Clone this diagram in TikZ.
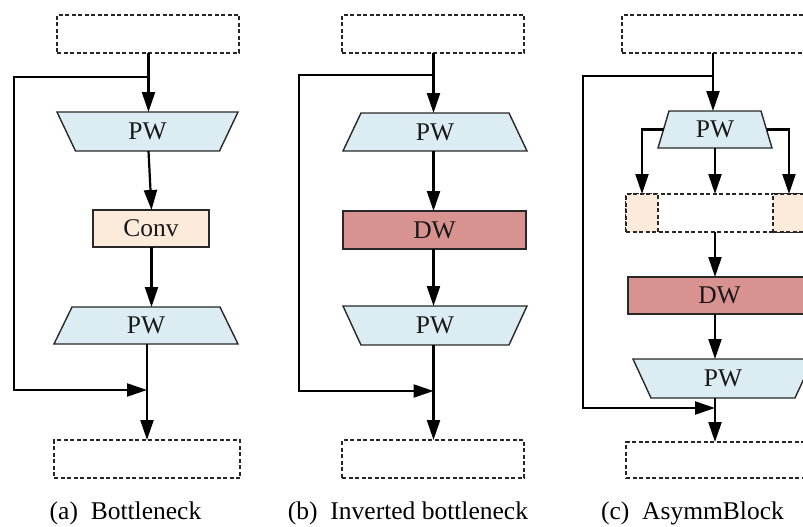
\documentclass[tikz,border=0pt]{standalone}
\usepackage{fontspec}
\setmainfont{Liberation Serif}
\usetikzlibrary{arrows.meta,backgrounds,calc}
\definecolor{pwblue}{RGB}{219,236,242}
\definecolor{convpeach}{RGB}{252,234,219}
\definecolor{dwred}{RGB}{216,146,143}
\definecolor{edgegray}{RGB}{40,40,40}
\tikzset{
  lbl/.style={font=\fontsize{25.5}{30}\selectfont, text=black!90},
  blk/.style={lbl, draw=none, inner sep=0pt, outer sep=0pt, rectangle},
  iobox/.style={draw=black!85, dash pattern=on 4pt off 2.5pt, line width=1.1pt, inner sep=0pt, outer sep=0pt, rectangle},
  pwshape/.style={fill=pwblue, draw=edgegray, line width=1.4pt},
  convbox/.style={blk, fill=convpeach, draw=edgegray, line width=1.4pt},
  dwbox/.style={blk, fill=dwred, draw=edgegray, line width=1.4pt},
  peachbox/.style={iobox, fill=convpeach},
  flow/.style={line width=2.2pt, -{Triangle[length=20pt,width=13pt]}},
  captext/.style={font=\fontsize{25.5}{30}\selectfont, inner sep=0pt, anchor=base},
}
\begin{document}
\begin{tikzpicture}[x=1pt,y=-1pt]
\useasboundingbox (0,0) rectangle (803,527);
\clip (0,0) rectangle (803,527);

% ---------- (a) Bottleneck ----------
\node[iobox, minimum width=182pt, minimum height=38pt] (ta) at (148,34) {};
\node[blk, minimum width=181pt, minimum height=39pt] (pa1) at (147.5,131.5) {PW};
\node[convbox, minimum width=116pt, minimum height=37pt] (conv) at (151,228.5) {Conv};
\node[blk, minimum width=184pt, minimum height=37pt] (pa2) at (146,325.5) {PW};
\node[iobox, minimum width=186pt, minimum height=38pt] (oa) at (147,459) {};
\begin{scope}[on background layer]
  \draw[pwshape] (pa1.north west) -- (pa1.north east) -- ([xshift=-18.5pt]pa1.south east) -- ([xshift=18.5pt]pa1.south west) -- cycle;
  \draw[pwshape] ([xshift=18pt]pa2.north west) -- ([xshift=-18pt]pa2.north east) -- (pa2.south east) -- (pa2.south west) -- cycle;
\end{scope}
\coordinate (xa1) at (148.5,0);
\coordinate (xa2) at (151.5,0);
\coordinate (xa3) at (147,0);
\coordinate (ja) at ($(ta.south)+(0,24)$);
\coordinate (ka) at ($(pa2.south -| xa3)+(0,46)$);
\coordinate (la) at (14,0);
\draw[flow] (ta.south -| xa1) -- (pa1.north -| xa1);
\draw[flow] (pa1.south -| xa1) -- (conv.north -| xa2);
\draw[flow] (conv.south -| xa2) -- (pa2.north -| xa2);
\draw[flow] (pa2.south -| xa3) -- (oa.north -| xa3);
\draw[flow] (ja -| xa1) -- (ja -| la) |- (ka);
\node[captext] (capa) at (125.5,519) {(a)\enspace Bottleneck};

% ---------- (b) Inverted bottleneck ----------
\node[iobox, minimum width=182pt, minimum height=38pt] (tb) at (433,34) {};
\node[blk, minimum width=184pt, minimum height=38pt] (pb1) at (435,132) {PW};
\node[dwbox, minimum width=183pt, minimum height=38pt] (dwb) at (434.5,230) {DW};
\node[blk, minimum width=184pt, minimum height=39pt] (pb2) at (435,325.5) {PW};
\node[iobox, minimum width=182pt, minimum height=38pt] (ob) at (433,459) {};
\begin{scope}[on background layer]
  \draw[pwshape] ([xshift=18pt]pb1.north west) -- ([xshift=-18pt]pb1.north east) -- (pb1.south east) -- (pb1.south west) -- cycle;
  \draw[pwshape] (pb2.north west) -- (pb2.north east) -- ([xshift=-18pt]pb2.south east) -- ([xshift=18pt]pb2.south west) -- cycle;
\end{scope}
\coordinate (mb) at (433.5,0);
\coordinate (jb) at ($(tb.south -| mb)+(0,22)$);
\coordinate (kb) at (433.5,391);
\coordinate (lb) at (299,0);
\draw[flow] (tb.south -| mb) -- (pb1.north -| mb);
\draw[flow] (pb1.south -| mb) -- (dwb.north -| mb);
\draw[flow] (dwb.south -| mb) -- (pb2.north -| mb);
\draw[flow] (pb2.south -| mb) -- (ob.north -| mb);
\draw[flow] (jb) -- (jb -| lb) |- (kb);
\node[captext] (capb) at (408,519) {(b)\enspace Inverted bottleneck};

% ---------- (c) AsymmBlock ----------
\node[iobox, minimum width=182pt, minimum height=38pt] (tc) at (713,34) {};
\node[blk, minimum width=114pt, minimum height=37pt] (pc1) at (715,129.5) {PW};
\node[iobox, minimum width=179pt, minimum height=38pt] (mrow) at (715.5,213) {};
\node[peachbox, minimum width=32pt, minimum height=38pt] (pl) at (642,213) {};
\node[peachbox, minimum width=32pt, minimum height=38pt] (pr) at (789,213) {};
\node[dwbox, minimum width=183pt, minimum height=37pt] (dwc) at (719.5,295.5) {DW};
\node[blk, minimum width=180pt, minimum height=39pt] (pc2) at (723,378.5) {PW};
\node[iobox, minimum width=182pt, minimum height=36pt] (oc) at (717,460) {};
\begin{scope}[on background layer]
  \draw[pwshape] ([xshift=11pt]pc1.north west) -- ([xshift=-11pt]pc1.north east) -- (pc1.south east) -- (pc1.south west) -- cycle;
  \draw[pwshape] (pc2.north west) -- (pc2.north east) -- ([xshift=-18pt]pc2.south east) -- ([xshift=18pt]pc2.south west) -- cycle;
\end{scope}
\coordinate (mc) at (715,0);
\coordinate (jc) at ($(tc.south)+(0,23)$);
\coordinate (lc) at (583,0);
\coordinate (kc) at ($(pc2.south -| mc)+(0,10)$);
\draw[flow] (tc.south) -- (tc.south |- pc1.north);
\draw[flow] (pc1.south -| mc) -- (mrow.north -| mc);
\draw[flow] ([xshift=5.5pt]pc1.west) -| (pl.north);
\draw[flow] ([xshift=-5.5pt]pc1.east) -| (pr.north);
\draw[flow] (mrow.south -| mc) -- (dwc.north -| mc);
\draw[flow] (dwc.south -| mc) -- (pc2.north -| mc);
\draw[flow] (pc2.south -| mc) -- (oc.north -| mc);
\draw[flow] (jc) -- (jc -| lc) |- (kc);
\node[captext] (capc) at (692.5,519) {(c)\enspace AsymmBlock};
\end{tikzpicture}
\end{document}
